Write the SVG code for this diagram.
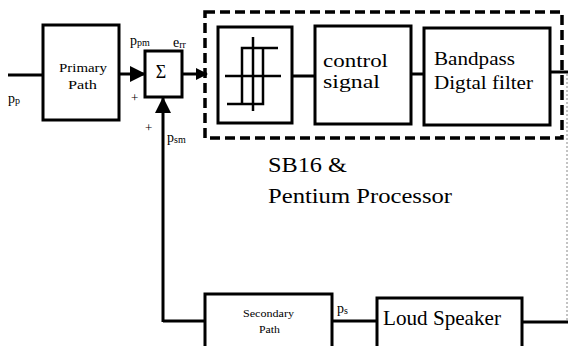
<svg xmlns="http://www.w3.org/2000/svg" width="568" height="346" viewBox="0 0 568 346">
<style>
.box{fill:#fff;stroke:#000;stroke-width:3}
.ln{fill:none;stroke:#000;stroke-width:3}
.thin{fill:none;stroke:#000;stroke-width:2.5}
</style>
<defs>
<marker id="arr" markerWidth="12" markerHeight="12" refX="11" refY="6" orient="auto" markerUnits="userSpaceOnUse" viewBox="0 0 12 12">
<path d="M0,0 L12,6 L0,12 Z" fill="#000"/>
</marker>
<marker id="arr2" markerWidth="16" markerHeight="16" refX="15" refY="8" orient="auto" markerUnits="userSpaceOnUse" viewBox="0 0 16 16">
<path d="M0,0 L16,8 L0,16 Z" fill="#000"/>
</marker>
</defs>
<rect width="568" height="346" fill="#fff"/>
<g id="connectors">
<line class="ln" x1="8" y1="75" x2="43" y2="75"/>
<line class="ln" x1="119" y1="74" x2="145" y2="74" marker-end="url(#arr2)"/>
<line class="ln" x1="163" y1="322" x2="163" y2="98" marker-end="url(#arr2)"/>
<line class="ln" x1="182" y1="74" x2="207" y2="74" marker-end="url(#arr)"/>
<line class="ln" x1="292" y1="76" x2="315" y2="76"/>
<line class="ln" x1="411" y1="74" x2="424" y2="74"/>
<line class="ln" x1="550" y1="72" x2="568" y2="72"/>
<polyline class="ln" points="163,321 205,321"/>
<line class="ln" x1="332" y1="321" x2="377" y2="321"/>
<line class="ln" x1="522" y1="322" x2="568" y2="322"/>
<line x1="567" y1="74" x2="567" y2="322" stroke="#888" stroke-width="1" stroke-dasharray="2,2"/>
</g>
<g id="dashed-group">
<rect x="205" y="12" width="357" height="126" fill="none" stroke="#000" stroke-width="3.5" stroke-dasharray="10,5"/>
</g>
<g font-family="'Liberation Serif', 'Times New Roman', 'DejaVu Serif', serif" fill="#000">
<g id="primary-path">
<rect class="box" x="43" y="25" width="76" height="95"/>
<text x="59" y="72" font-size="13" textLength="48" lengthAdjust="spacingAndGlyphs">Primary</text>
<text x="68" y="89" font-size="13" textLength="29" lengthAdjust="spacingAndGlyphs">Path</text>
</g>
<g id="sum">
<rect class="box" x="145" y="51" width="37" height="46"/>
<text x="161" y="78" font-size="18" text-anchor="middle">Σ</text>
</g>
<g id="hysteresis">
<rect class="box" x="218" y="27" width="74" height="96"/>
<line class="thin" x1="253" y1="37" x2="253" y2="111"/>
<line class="thin" x1="225" y1="76" x2="281" y2="76"/>
<polyline class="thin" points="278,48 242,48 242,104"/>
<polyline class="thin" points="227,104 263,104 263,48"/>
</g>
<g id="control-signal">
<rect class="box" x="315" y="26" width="96" height="98"/>
<text x="323" y="67" font-size="18.5" textLength="65" lengthAdjust="spacingAndGlyphs">control</text>
<text x="323" y="88" font-size="18.5" textLength="57" lengthAdjust="spacingAndGlyphs">signal</text>
</g>
<g id="bandpass">
<rect class="box" x="424" y="28" width="126" height="97"/>
<text x="434" y="65" font-size="18" textLength="81" lengthAdjust="spacingAndGlyphs">Bandpass</text>
<text x="434" y="89" font-size="18" textLength="99" lengthAdjust="spacingAndGlyphs">Digtal  filter</text>
</g>
<g id="secondary-path">
<rect class="box" x="205" y="294" width="127" height="60"/>
<text x="243" y="317" font-size="10" textLength="51" lengthAdjust="spacingAndGlyphs">Secondary</text>
<text x="259" y="333" font-size="10" textLength="21" lengthAdjust="spacingAndGlyphs">Path</text>
</g>
<g id="loud-speaker">
<rect class="box" x="377" y="298" width="145" height="60"/>
<text x="383" y="325" font-size="21" textLength="118" lengthAdjust="spacingAndGlyphs">Loud  Speaker</text>
</g>
<g id="labels">
<text x="130" y="45" font-size="14">p<tspan font-size="10" dy="1">pm</tspan></text>
<text x="173" y="47" font-size="14">e<tspan font-size="10" dy="1">rr</tspan></text>
<text x="8" y="103" font-size="14">p<tspan font-size="10" dy="1">p</tspan></text>
<text x="131" y="102" font-size="13">+</text>
<text x="145" y="132" font-size="13">+</text>
<text x="167" y="142" font-size="14">p<tspan font-size="10" dy="1">sm</tspan></text>
<text x="337" y="313" font-size="14">p<tspan font-size="10" dy="1">s</tspan></text>
<text x="268" y="172" font-size="21" textLength="79" lengthAdjust="spacingAndGlyphs">SB16  &amp;</text>
<text x="268" y="203" font-size="21" textLength="184" lengthAdjust="spacingAndGlyphs">Pentium  Processor</text>
</g>
</g>
</svg>
